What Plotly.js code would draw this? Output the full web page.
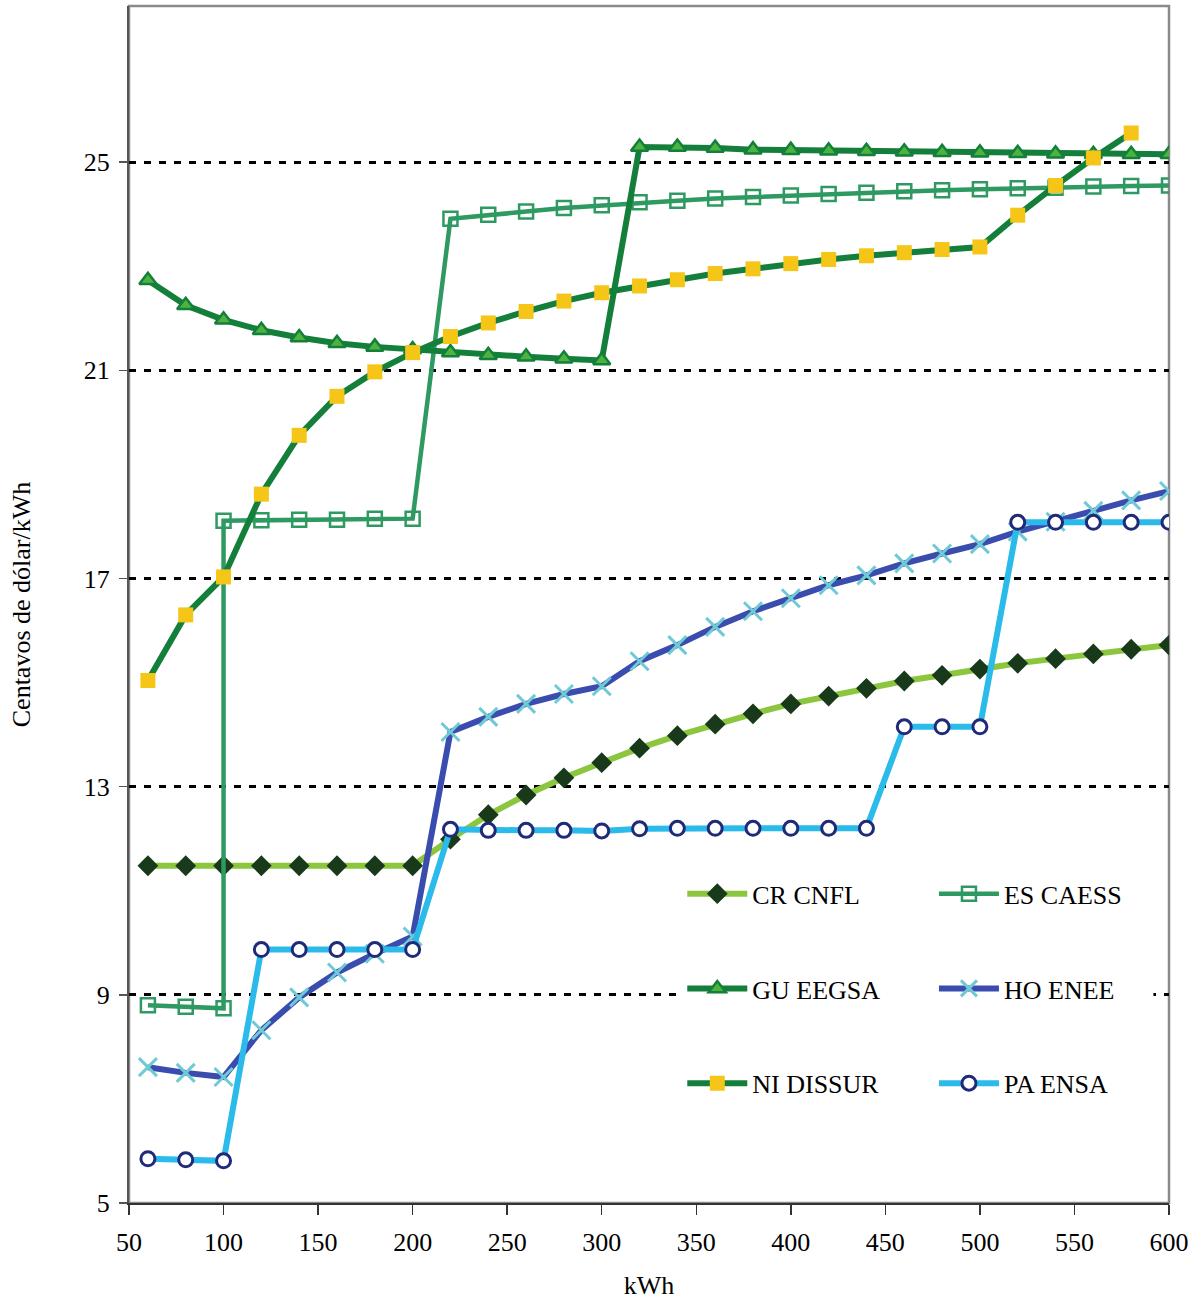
<!DOCTYPE html>
<html>
<head>
<meta charset="utf-8">
<script src="https://cdn.plot.ly/plotly-3.0.1.min.js"></script>
<style>html,body{margin:0;padding:0;background:#fff;}#chart{width:1198px;height:1301px;}</style>
</head>
<body>
<div id="chart"></div>
<script>
const kwh = [60,80,100,120,140,160,180,200,220,240,260,280,300,320,340,360,380,400,420,440,460,480,500,520,540,560,580,600];
const kwhCaess = [60,80,100,100,120,140,160,180,200,220,240,260,280,300,320,340,360,380,400,420,440,460,480,500,520,540,560,580,600];
const kwhDissur = [60,80,100,120,140,160,180,200,220,240,260,280,300,320,340,360,380,400,420,440,460,480,500,520,540,560,580];

const crCnfl = [11.48,11.48,11.48,11.48,11.48,11.48,11.48,11.48,11.99,12.46,12.84,13.17,13.46,13.74,13.98,14.20,14.40,14.59,14.74,14.89,15.03,15.14,15.26,15.37,15.46,15.55,15.64,15.72];
const esCaess = [8.80,8.77,8.74,18.11,18.12,18.13,18.13,18.15,18.15,23.91,23.99,24.05,24.12,24.17,24.23,24.26,24.30,24.33,24.36,24.39,24.41,24.44,24.46,24.48,24.50,24.51,24.53,24.54,24.55];
const guEegsa = [22.73,22.25,21.97,21.77,21.63,21.52,21.45,21.40,21.34,21.29,21.26,21.22,21.19,25.29,25.29,25.27,25.24,25.23,25.22,25.21,25.20,25.19,25.18,25.17,25.16,25.15,25.15,25.15];
const hoEnee = [7.61,7.50,7.42,8.32,8.95,9.43,9.79,10.12,14.05,14.34,14.59,14.78,14.93,15.41,15.72,16.07,16.37,16.62,16.87,17.06,17.29,17.48,17.66,17.90,18.09,18.30,18.50,18.68];
const niDissur = [15.04,16.30,17.03,18.62,19.75,20.50,20.97,21.34,21.65,21.91,22.13,22.33,22.49,22.62,22.74,22.86,22.95,23.05,23.13,23.20,23.26,23.32,23.37,23.98,24.55,25.08,25.56];
const paEnsa = [5.85,5.83,5.81,9.87,9.87,9.87,9.87,9.87,12.18,12.16,12.16,12.16,12.15,12.19,12.20,12.20,12.20,12.20,12.20,12.20,14.15,14.15,14.15,18.08,18.08,18.08,18.08,18.08];

const seriesNames = ['CR CNFL','ES CAESS','GU EEGSA','HO ENEE','NI DISSUR','PA ENSA'];
const xTitle = 'kWh';
const yTitle = 'Centavos de dólar/kWh';

const serif = 'Liberation Serif, Times New Roman, serif';

const traces = [
  {x: kwh, y: crCnfl, name: seriesNames[0], mode: 'lines+markers', legend: 'legend', legendgroup: 'a',
   line: {color: '#8CC63F', width: 6},
   marker: {symbol: 'diamond', size: 16, color: '#18391A'}},
  {x: kwhCaess, y: esCaess, name: seriesNames[1], mode: 'lines+markers', legend: 'legend2', legendgroup: 'b',
   line: {color: '#2E9A62', width: 4.5},
   marker: {symbol: 'square-open', size: 14, color: '#2E9A62', line: {width: 2.5, color: '#2E9A62'}}},
  {x: kwh, y: guEegsa, name: seriesNames[2], mode: 'lines+markers', legend: 'legend', legendgroup: 'c',
   line: {color: '#137F3B', width: 6},
   marker: {symbol: 'triangle-up', size: 15, color: '#4DB33F', line: {width: 2.5, color: '#137F3B'}}},
  {x: kwh, y: hoEnee, name: seriesNames[3], mode: 'lines+markers', legend: 'legend2', legendgroup: 'd',
   line: {color: '#3A4DAE', width: 6},
   marker: {symbol: 'x-thin-open', size: 18, color: '#6FCAD6', line: {width: 3, color: '#6FCAD6'}}},
  {x: kwhDissur, y: niDissur, name: seriesNames[4], mode: 'lines+markers', legend: 'legend', legendgroup: 'e',
   line: {color: '#137F3B', width: 6},
   marker: {symbol: 'square', size: 15, color: '#F5C518'}},
  {x: kwh, y: paEnsa, name: seriesNames[5], mode: 'lines+markers', legend: 'legend2', legendgroup: 'f',
   line: {color: '#2ABBEA', width: 6},
   marker: {symbol: 'circle', size: 14, color: '#FFFFFF', line: {width: 3, color: '#1F2A78'}}}
];

const legendCommon = {
  orientation: 'v', bgcolor: 'rgba(255,255,255,0)', borderwidth: 0,
  font: {family: serif, size: 26, color: '#000'},
  itemwidth: 60, tracegroupgap: 58, yanchor: 'top', xanchor: 'left', traceorder: 'grouped'
};

const layout = {
  width: 1198, height: 1301,
  margin: {l: 128.5, r: 29, t: 5.7, b: 98, pad: 0},
  paper_bgcolor: '#fff', plot_bgcolor: '#fff',
  font: {family: serif, size: 26, color: '#000'},
  showlegend: true,
  xaxis: {
    range: [50, 600], tick0: 50, dtick: 50, showgrid: false, zeroline: false,
    showline: true, linecolor: '#333', linewidth: 2,
    ticks: 'outside', ticklen: 10, tickwidth: 1.5, tickcolor: '#333', ticklabelstandoff: 5,
    tickfont: {family: serif, size: 26, color: '#000'},
    title: {text: xTitle, font: {family: serif, size: 26, color: '#000'}, standoff: 20}
  },
  yaxis: {
    range: [5, 28], tick0: 5, dtick: 4, zeroline: false,
    showgrid: true, gridcolor: '#000', gridwidth: 3, griddash: '7px,8px',
    showline: true, linecolor: '#555', linewidth: 2,
    ticks: 'outside', ticklen: 8, tickwidth: 1.5, tickcolor: '#555', ticklabelstandoff: 4,
    tickfont: {family: serif, size: 26, color: '#000'},
    title: {text: yTitle, font: {family: serif, size: 26, color: '#000'}, standoff: 46}
  },
  legend: Object.assign({}, legendCommon, {x: 0.532, y: 0.278}),
  legend2: Object.assign({}, legendCommon, {x: 0.774, y: 0.278}),
  shapes: [
    {type: 'rect', xref: 'paper', yref: 'paper', x0: 0.532, x1: 0.985, y0: 0.06, y1: 0.285,
     fillcolor: '#fff', line: {width: 0}, layer: 'above'},
    {type: 'rect', xref: 'paper', yref: 'paper', x0: 0, x1: 1, y0: 0, y1: 1,
     fillcolor: 'rgba(0,0,0,0)', line: {width: 2.5, color: '#8A8A8A'}, layer: 'below'}
  ]
};

Plotly.newPlot('chart', traces, layout, {displayModeBar: false, staticPlot: true});
</script>
</body>
</html>
